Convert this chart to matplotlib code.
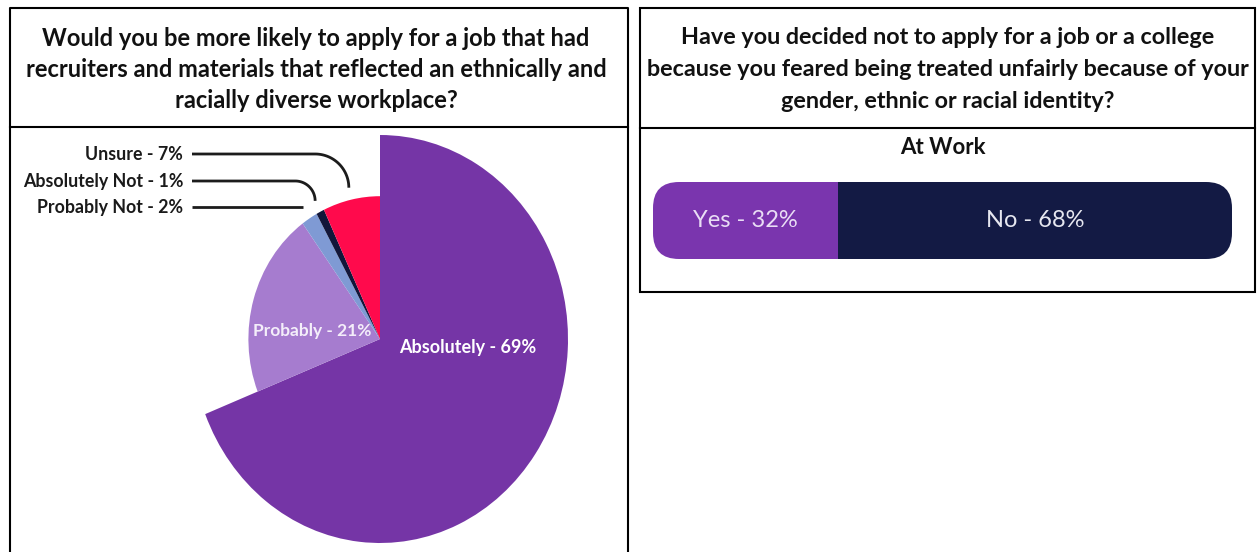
import numpy as np
import matplotlib
matplotlib.use("Agg")
import matplotlib.pyplot as plt
from matplotlib.patches import FancyBboxPatch, Rectangle

# ---- data -------------------------------------------------------------
pie_labels = ["Absolutely", "Probably", "Probably Not", "Absolutely Not", "Unsure"]
pie_values = [69, 21, 2, 1, 7]
pie_colors = ["#7535A6", "#A67CCF", "#7F9AD4", "#12163A", "#FF0A4C"]

bar_labels = ["Yes", "No"]
bar_values = [32, 68]
bar_colors = ["#7A35AE", "#131A44"]
bar_text_colors = ["#E9DDF5", "#E6E7F0"]
bar_title = "At Work"

left_title = ["Would you be more likely to apply for a job that had",
              "recruiters and materials that reflected an ethnically and",
              "racially diverse workplace?"]
right_title = ["Have you decided not to apply for a job or a college",
               "because you feared being treated unfairly because of your",
               "gender, ethnic or racial identity?"]

# ---- canvas -----------------------------------------------------------
W, H = 1260, 552
FONT = "Lato"
fig = plt.figure(figsize=(W / 100, H / 100), dpi=100)
fig.patch.set_facecolor("white")

# pixel-space overlay for frames, titles and leader lines
ov = fig.add_axes([0, 0, 1, 1], zorder=0)
ov.set_xlim(0, W)
ov.set_ylim(H, 0)
ov.axis("off")


def px_axes(x0, y0, x1, y1, z=1):
    return fig.add_axes([x0 / W, 1 - y1 / H, (x1 - x0) / W, (y1 - y0) / H], zorder=z)


lw = 1.5
# left panel frame
ov.plot([10, 10, 628, 628], [H + 5, 8, 8, H + 5], color="black", lw=lw, clip_on=False)
ov.plot([10, 628], [127, 127], color="black", lw=lw)
# right panel frame
ov.add_patch(Rectangle((640, 8), 615, 284, fill=False, edgecolor="black", lw=lw))
ov.plot([640, 1255], [128, 128], color="black", lw=lw)

for i, line in enumerate(left_title):
    ov.text(316, 38 + 31.5 * i, line, ha="center", va="center",
            fontsize=17, fontweight="bold", family=FONT, color="#111111")
for i, line in enumerate(right_title):
    ov.text(948, 38 + 31.5 * i, line, ha="center", va="center",
            fontsize=16.8, fontweight="bold", family=FONT, color="#111111")

# ---- pie --------------------------------------------------------------
cx, cy, rx, ry = 380, 339, 188, 204
ax_pie = px_axes(cx - 200, cy - 220, cx + 200, cy + 220)
wedges, _ = ax_pie.pie(pie_values, colors=pie_colors, radius=0.7, startangle=90,
                       counterclock=False, wedgeprops=dict(linewidth=0))
wedges[0].set_radius(1.0)
ax_pie.set_aspect("auto")
ax_pie.set_xlim(-200 / rx, 200 / rx)
ax_pie.set_ylim(-220 / ry, 220 / ry)
ax_pie.axis("off")

ax_pie.text(0.468, -0.044, f"{pie_labels[0]} - {pie_values[0]}%", ha="center", va="center",
            color="white", fontsize=13, fontweight="bold", family=FONT)
ax_pie.text(-0.36, 0.04, f"{pie_labels[1]} - {pie_values[1]}%", ha="center", va="center",
            color="#F4EEFA", fontsize=12.5, fontweight="bold", family=FONT)

# outside labels with leader lines for the small slices
label_rows = {"Unsure": 154, "Absolutely Not": 181, "Probably Not": 207}
to_px = ov.transData.inverted()
for w, name, val in zip(wedges, pie_labels, pie_values):
    if name not in label_rows:
        continue
    yl = label_rows[name]
    ov.text(183, yl, f"{name} - {val}%", ha="right", va="center", fontsize=12.8,
            fontweight="bold", family=FONT, color="#1A1A1A")
    mid = np.deg2rad((w.theta1 + w.theta2) / 2)
    r = w.r + 0.06
    xe, ye = to_px.transform(ax_pie.transData.transform((r * np.cos(mid), r * np.sin(mid))))
    drop = ye - yl
    if drop < 8:
        xs, ys = [192, xe], [yl, yl]
    else:
        t = np.linspace(0, np.pi / 2, 40)
        xc, yc = xe - drop, yl + drop
        xs = np.concatenate([[192], xc + drop * np.sin(t)])
        ys = np.concatenate([[yl], yc - drop * np.cos(t)])
    ov.plot(xs, ys, color="#1C1C1C", lw=2.0, solid_capstyle="butt")

# ---- stacked bar --------------------------------------------------------
ov.text(943, 147, bar_title, ha="center", va="center", fontsize=16,
        fontweight="bold", family=FONT, color="#111111")

bx0, by0, bx1, by1 = 653, 182, 1232, 259
ax_bar = px_axes(bx0, by0, bx1, by1)
ax_bar.set_xlim(0, sum(bar_values))
ax_bar.set_ylim(-0.5, 0.5)
ax_bar.axis("off")
xunit = sum(bar_values) / (bx1 - bx0)
yunit = 1.0 / (by1 - by0)
clip = FancyBboxPatch((0, -0.5), sum(bar_values), 1,
                      boxstyle=f"round,pad=0,rounding_size={26 * xunit}",
                      mutation_aspect=yunit / xunit, transform=ax_bar.transData,
                      facecolor="none", edgecolor="none")
ax_bar.add_patch(clip)
left = 0
for lab, val, col, tcol in zip(bar_labels, bar_values, bar_colors, bar_text_colors):
    bars = ax_bar.barh(0, val, left=left, height=1, color=col, linewidth=0)
    for b in bars:
        b.set_clip_path(clip)
    ax_bar.text(left + val / 2, 0.0, f"{lab} - {val}%", ha="center", va="center",
                color=tcol, fontsize=17, family=FONT)
    left += val

fig.savefig("out.png", dpi=100, facecolor="white")
